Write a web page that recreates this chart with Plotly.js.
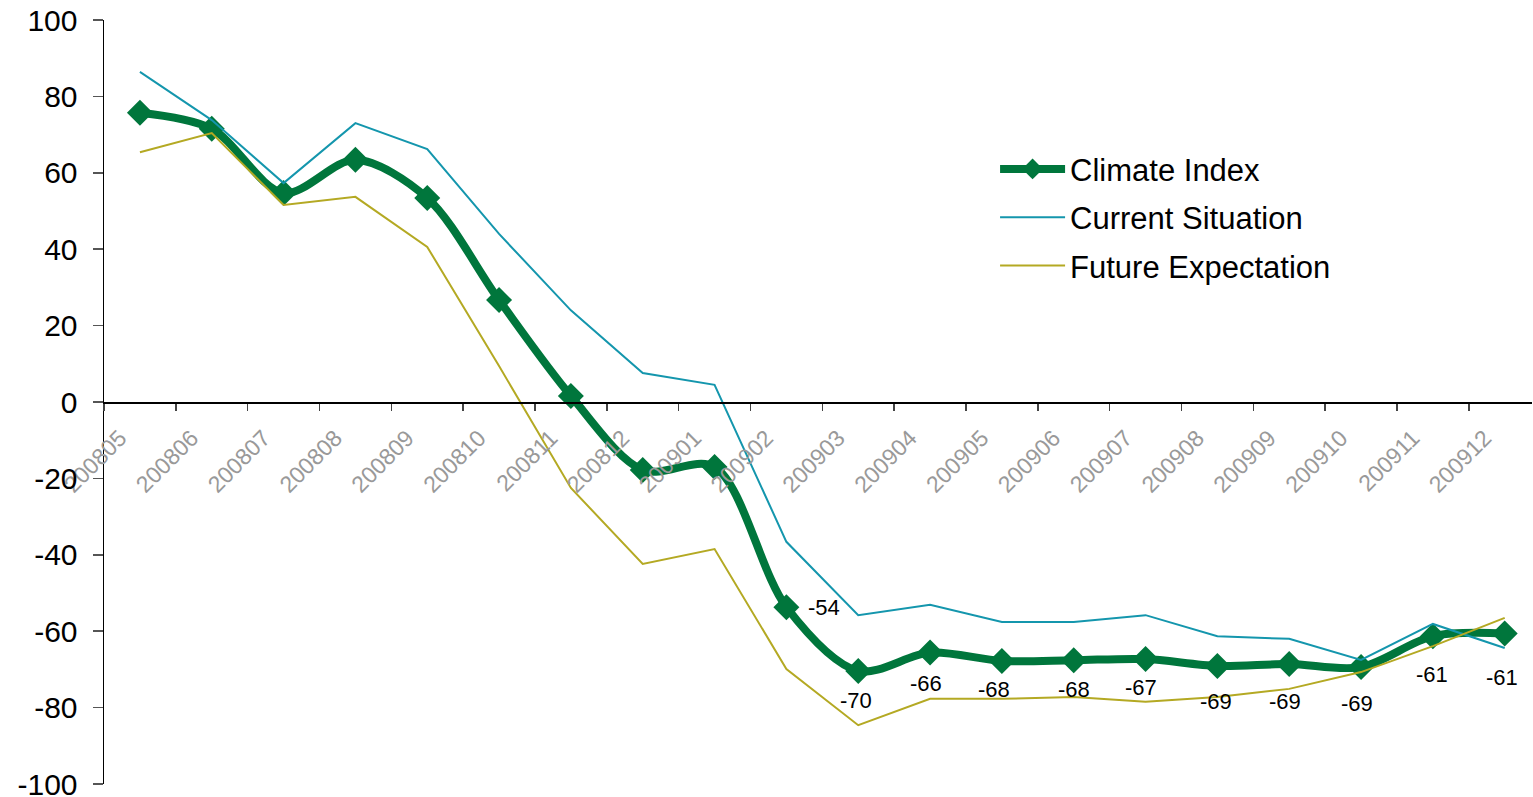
<!DOCTYPE html>
<html>
<head>
<meta charset="utf-8">
<script src="https://cdn.plot.ly/plotly-3.0.1.min.js"></script>
<style>
  html, body { margin: 0; padding: 0; background: #fff; }
  #chart { width: 1533px; height: 797px; }
</style>
</head>
<body>
<div id="chart"></div>
<script>
// ---- data ----
const months = ["200805","200806","200807","200808","200809","200810","200811","200812","200901","200902",
                "200903","200904","200905","200906","200907","200908","200909","200910","200911","200912"];
const climateIndex = [75.7, 71.5, 54.7, 63.4, 53.4, 26.7, 1.6, -17.8, -17.0, -53.7,
                      -70.4, -65.6, -67.8, -67.6, -67.3, -69.1, -68.6, -69.4, -61.3, -60.6];
const currentSituation = [86.4, 73.8, 57.3, 73.0, 66.2, 44.0, 24.0, 7.6, 4.5, -36.6,
                          -55.8, -53.1, -57.6, -57.6, -55.8, -61.3, -62.0, -67.5, -58.1, -64.4];
const futureExpectation = [65.4, 70.4, 51.6, 53.7, 40.6, 9.4, -22.5, -42.4, -38.5, -69.9,
                           -84.6, -77.7, -77.7, -77.2, -78.5, -77.2, -75.1, -70.7, -63.9, -56.5];
// data labels shown for Climate Index (from 200902 on)
const labelMonths = ["200902","200903","200904","200905","200906","200907","200908","200909","200910","200911","200912"];
const labelTexts  = ["-54","-70","-66","-68","-68","-67","-69","-69","-69","-61","-61"];
// y-axis tick values and labels
const yTickVals   = [-100, -80, -60, -40, -20, 0, 20, 40, 60, 80, 100];
const yTickLabels = ["-100","-80","-60","-40","-20","0","20","40","60","80","100"];

// ---- label placement (styling) ----
const labelDx = [38, -2, -4, -8, 0, -5, -1, -4, -4, -1, -3];
const labelDy = [0, -30, -31, -28, -29, -28, -36, -37, -36, -38, -44];

const green = "#00763C", blue = "#1496AD", olive = "#B4A923";
const font = "Arial, 'Liberation Sans', sans-serif";

const traces = [
  { x: months, y: climateIndex, name: "Climate Index", type: "scatter", mode: "lines+markers",
    line: { color: green, width: 8, shape: "spline", smoothing: 0.9 },
    marker: { symbol: "diamond", size: 20, color: green },
    legendgroup: "a", hoverinfo: "skip" },
  { x: months, y: currentSituation, name: "Current Situation", type: "scatter", mode: "lines",
    line: { color: blue, width: 2 }, legendgroup: "b", hoverinfo: "skip" },
  { x: months, y: futureExpectation, name: "Future Expectation", type: "scatter", mode: "lines",
    line: { color: olive, width: 2 }, legendgroup: "c", hoverinfo: "skip" }
];

const annotations = labelMonths.map((m, i) => {
  const idx = months.indexOf(m);
  return {
    x: idx, y: climateIndex[idx], xref: "x", yref: "y",
    text: labelTexts[i], showarrow: false,
    xanchor: "center", yanchor: "middle",
    xshift: labelDx[i], yshift: labelDy[i],
    font: { family: font, size: 22, color: "#000" }
  };
});

const layout = {
  width: 1533, height: 797,
  margin: { l: 104, r: 1, t: 20, b: 13, pad: 0 },
  paper_bgcolor: "#fff", plot_bgcolor: "#fff",
  font: { family: font, color: "#000" },
  showlegend: true,
  legend: {
    x: 0.624, y: 0.84, xanchor: "left", yanchor: "top",
    font: { family: font, size: 31, color: "#000" },
    traceorder: "grouped", tracegroupgap: 5,
    itemwidth: 65,
    bgcolor: "rgba(0,0,0,0)"
  },
  xaxis: {
    type: "category", range: [-0.5, 19.38],
    anchor: "free", position: 0.5,
    showline: true, linecolor: "#000", linewidth: 1.5,
    ticks: "outside", tickson: "boundaries", ticklen: 7, tickcolor: "#444", tickwidth: 1.5,
    tickangle: -45,
    tickfont: { family: font, size: 23, color: "#999" },
    ticklabelstandoff: 12, ticklabelshift: -20,
    showgrid: false, zeroline: false, fixedrange: true
  },
  yaxis: {
    range: [-100, 100], tickmode: "array", tickvals: yTickVals, ticktext: yTickLabels,
    showline: true, linecolor: "#000", linewidth: 1.5,
    ticks: "outside", ticklen: 10, tickcolor: "#555", tickwidth: 1.5,
    tickfont: { family: font, size: 30, color: "#000" },
    ticklabelstandoff: 9, ticklabeloverflow: "allow",
    showgrid: false, zeroline: false, fixedrange: true
  },
  annotations: annotations
};

Plotly.newPlot("chart", traces, layout, { displayModeBar: false, staticPlot: true });
</script>
</body>
</html>
